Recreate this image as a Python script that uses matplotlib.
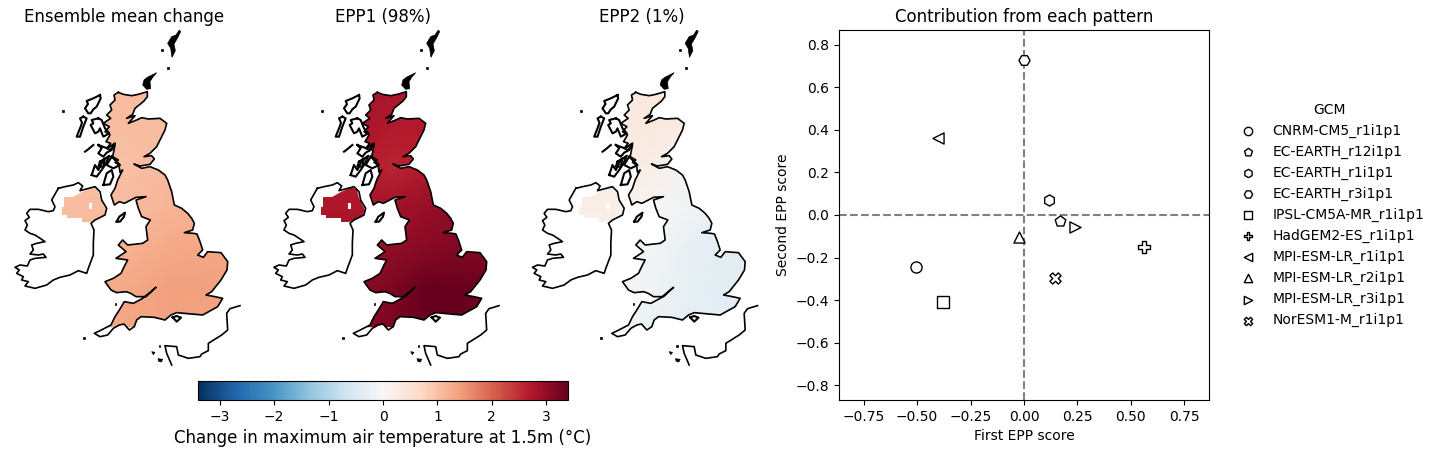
import numpy as np
import matplotlib
matplotlib.use("Agg")
import matplotlib.pyplot as plt
from matplotlib.path import Path
from matplotlib.patches import PathPatch

W, H = 1440, 454

# map coordinates (x right, y down)
gb_coast = [(355,217),(370,223),(395,227),(415,223),(442,215),(442,230),(432,243),(420,253),(405,265),(398,283),
    (380,295),(405,287),(385,310),(410,300),(425,293),(445,297),(480,295),(500,310),(495,330),(480,360),
    (470,380),(450,400),(432,410),(455,407),(463,417),(450,433),(420,438),(402,432),(425,445),(450,440),
    (475,450),(495,465),(503,480),(515,515),(523,555),(545,565),(563,580),(575,595),(583,610),(578,630),
    (553,638),(580,640),(591,642),(600,665),(608,690),(593,705),(610,712),(623,695),(663,698),(683,725),
    (681,750),(663,780),(643,805),(635,815),(618,825),(645,830),(668,835),(653,860),(608,885),(553,880),
    (530,878),(513,885),(495,900),(463,892),(423,890),(410,900),(403,920),(388,930),(372,912),(358,915),(340,925),
    (323,945),(300,950),(283,940),(300,932),(333,915),(345,890),(358,870),(373,845),(400,850),(428,835),
    (468,802),(438,830),(408,830),(392,820),(378,815),(350,818),(333,810),(315,785),(340,775),(363,760),(375,735),
    (383,720),(348,715),(378,695),(355,675),(368,660),(383,675),(428,670),(443,660),(438,620),(451,600),
    (425,590),(415,565),(408,540),(438,530),(408,532),(373,550),(358,545),(343,555),(333,525),(345,505),(353,480),
    (368,450),(360,457),(357,435),(345,427),(355,420),(338,410),(345,375),(330,390),(320,385),(332,370),
    (318,365),(330,345),(315,335),(328,320),(310,310),(332,295),(320,285),(335,270),(330,255),(345,240),
    (342,225),(355,217)]
ireland_coast = [(175,505),(195,500),(220,495),(235,488),(248,498),(240,512),(255,508),(285,500),(300,515),(305,540),
    (320,565),(315,585),(285,600),(273,610),(282,630),(280,670),(280,705),(265,745),(260,760),(235,752),
    (210,765),(180,772),(160,780),(140,795),(105,805),(75,798),(85,785),(65,780),(70,770),(50,760),
    (58,750),(45,742),(60,735),(82,738),(90,720),(105,715),(138,712),(130,702),(115,705),(90,702),
    (100,690),(95,675),(110,670),(135,665),(125,658),(105,645),(90,640),(75,630),(82,615),(75,602),
    (88,592),(80,580),(90,568),(115,568),(145,575),(160,572),(165,560),(155,540),(175,505)]
ni_land = [(192,530),(218,530),(245,515),(280,502),(295,510),(300,535),(318,570),(310,590),(270,605),(245,605),
    (245,595),(200,595),(200,585),(185,585),(185,560),(192,560),(192,530)]
ni_gap = [(266,548),(266,568),(276,568),(276,548)]
france_coast = [(720,857),(690,866),(680,880),(683,930),(665,945),(625,970),(625,992),(605,1002),(600,1010),(565,1015),
    (535,1005),(530,980),(495,977),(500,1000),(515,1035)]
outline_islands = [
    [(300,225),(280,235),(260,243),(264,252),(255,265),(265,280),(272,280),(280,268),(290,260),(302,235),(300,225)],
    [(250,290),(240,295),(246,308),(242,320),(230,350),(240,350),(250,320),(260,295),(250,290)],
    [(295,295),(275,300),(280,310),(272,315),(285,340),(295,335),(300,325),(310,350),(328,340),(315,325),(305,300),(295,295)],
    [(255,395),(262,390),(280,375)],
    [(295,375),(305,385),(295,400),(310,410),(320,398),(335,390),(345,370),(322,385),(295,375)],
    [(275,465),(285,435),(295,450),(310,420),(328,407),(318,430),(305,450),(290,470),(275,465)],
    [(310,495),(320,460),(335,450),(340,470),(330,493),(310,495)],
    [(335,410),(360,435),(340,445),(320,435),(335,410)],
    [(350,605),(358,590),(375,578),(372,590),(360,605),(350,605)],
    [(300,425),(315,415),(310,440),(295,440),(300,425)],
    [(518,892),(530,888),(543,893),(530,905),(518,892)],
]
black_islands = [
    [(538,30),(528,45),(515,50),(503,70),(512,85),(516,112),(526,92),(522,72),(532,55),(542,35)],
    [(432,180),(442,172),(470,158),(458,172),(450,185),(452,206),(440,208),(428,195)],
    [(455,995),(465,997),(460,1004)],
    [(474,1016),(488,1018),(484,1026),(476,1024)],
    [(186,271),(192,271),(192,276),(186,276)],
    [(248,950),(254,950),(254,956),(248,956)],
    [(502,140),(508,140),(508,146),(502,146)],
    [(484,88),(489,88),(489,93),(484,93)],
    [(345,850),(349,850),(349,854),(345,854)],
    [(476,976),(481,976),(481,980),(476,980)],
]

# change fields on a coarse grid (rows north to south)
grid_x = [180, 290, 400, 510, 620, 730]
grid_y = [200, 320, 440, 560, 680, 800, 920]
mean_change = [[1.05,1.05,1.05,1.05,1.10,1.10],
               [1.05,1.05,1.05,1.05,1.08,1.08],
               [1.02,1.02,1.02,1.10,1.15,1.15],
               [1.05,1.05,1.08,1.15,1.22,1.22],
               [1.12,1.15,1.20,1.28,1.32,1.32],
               [1.18,1.25,1.32,1.40,1.40,1.38],
               [1.22,1.28,1.35,1.40,1.38,1.38]]
epp1 = [[2.80,2.80,2.80,2.75,2.75,2.75],
        [2.80,2.80,2.70,2.70,2.70,2.70],
        [2.75,2.75,2.60,2.70,2.80,2.80],
        [2.75,2.75,2.85,2.95,3.05,3.05],
        [2.90,2.95,3.00,3.10,3.15,3.15],
        [3.00,3.05,3.20,3.40,3.35,3.25],
        [3.00,3.05,3.20,3.50,3.40,3.30]]
epp2 = [[0.32,0.32,0.32,0.32,0.32,0.32],
        [0.32,0.32,0.32,0.30,0.28,0.28],
        [0.28,0.28,0.22,0.12,0.05,0.05],
        [0.25,0.22,0.05,-0.12,-0.22,-0.22],
        [0.05,0.05,-0.08,-0.25,-0.38,-0.38],
        [-0.02,-0.05,-0.15,-0.28,-0.38,-0.38],
        [-0.12,-0.12,-0.22,-0.30,-0.32,-0.32]]
map_titles = ["Ensemble mean change", "EPP1 (98%)", "EPP2 (1%)"]
map_fields = [mean_change, epp1, epp2]

# scores of each model on the two patterns
gcm_names = ["CNRM-CM5_r1i1p1", "EC-EARTH_r12i1p1", "EC-EARTH_r1i1p1", "EC-EARTH_r3i1p1",
             "IPSL-CM5A-MR_r1i1p1", "HadGEM2-ES_r1i1p1", "MPI-ESM-LR_r1i1p1", "MPI-ESM-LR_r2i1p1",
             "MPI-ESM-LR_r3i1p1", "NorESM1-M_r1i1p1"]
gcm_markers = ["o", "p", "h", "H", "s", "P", "<", "^", ">", "X"]
first_score = [-0.505, 0.167, 0.118, 0.000, -0.380, 0.561, -0.403, -0.022, 0.238, 0.143]
second_score = [-0.243, -0.027, 0.072, 0.728, -0.409, -0.152, 0.362, -0.102, -0.055, -0.296]
cbar_ticks = [-3, -2, -1, 0, 1, 2, 3]
score_xticks = [-0.75, -0.50, -0.25, 0.00, 0.25, 0.50, 0.75]
score_yticks = [-0.8, -0.6, -0.4, -0.2, 0.0, 0.2, 0.4, 0.6, 0.8]


def px_axes(fig, x0, y0, x1, y1):
    return fig.add_axes([x0 / W, 1 - y1 / H, (x1 - x0) / W, (y1 - y0) / H])


fig = plt.figure(figsize=(W / 100, H / 100), dpi=100)

land = Path.make_compound_path(Path(gb_coast), Path(ni_land + [ni_land[0]] + ni_gap + [ni_gap[0], ni_land[0]]))
mesh = None
for i, (title, field) in enumerate(zip(map_titles, map_fields)):
    left = 259 * i - (0.5 if i == 2 else 0)
    ax = px_axes(fig, left, 30, left + 248, 370)
    mesh = ax.pcolormesh(grid_x, grid_y, np.array(field), cmap="RdBu_r", vmin=-3.4, vmax=3.4, shading="gouraud")
    patch = PathPatch(land, transform=ax.transData, facecolor="none", edgecolor="none")
    ax.add_patch(patch)
    mesh.set_clip_path(patch)
    for line in [gb_coast, ireland_coast, france_coast]:
        xy = np.array(line)
        ax.plot(xy[:, 0], xy[:, 1], color="k", lw=1.2)
    for line in outline_islands:
        xy = np.array(line)
        ax.plot(xy[:, 0], xy[:, 1], color="k", lw=1.5)
    for blob in black_islands:
        xy = np.array(blob)
        ax.fill(xy[:, 0], xy[:, 1], color="k", lw=0.5)
    ax.set_xlim(0, 744)
    ax.set_ylim(1050, 30)
    ax.axis("off")
    ax.set_title(title, fontsize=12)

cax = px_axes(fig, 198, 381, 568, 400)
cbar = fig.colorbar(mesh, cax=cax, orientation="horizontal", ticks=cbar_ticks)
cbar.set_label("Change in maximum air temperature at 1.5m (°C)", fontsize=12)

ax = px_axes(fig, 839, 30, 1209, 400)
ax.axhline(0, color="grey", ls="--", lw=1.5, zorder=1)
ax.axvline(0, color="grey", ls="--", lw=1.5, zorder=1)
for name, marker, a, b in zip(gcm_names, gcm_markers, first_score, second_score):
    ax.scatter(a, b, marker=marker, s=64, facecolor="white", edgecolor="k", linewidth=1.0, zorder=3, label=name)
ax.set_xlim(-0.865, 0.865)
ax.set_ylim(-0.87, 0.87)
ax.set_xticks(score_xticks)
ax.set_yticks(score_yticks)
ax.set_xlabel("First EPP score")
ax.set_ylabel("Second EPP score")
ax.set_title("Contribution from each pattern", fontsize=12)
ax.legend(title="GCM", frameon=False, markerscale=0.75, loc="center left",
          bbox_to_anchor=(1.033, 0.5), labelspacing=0.5)

fig.savefig("out.png", dpi=100)
